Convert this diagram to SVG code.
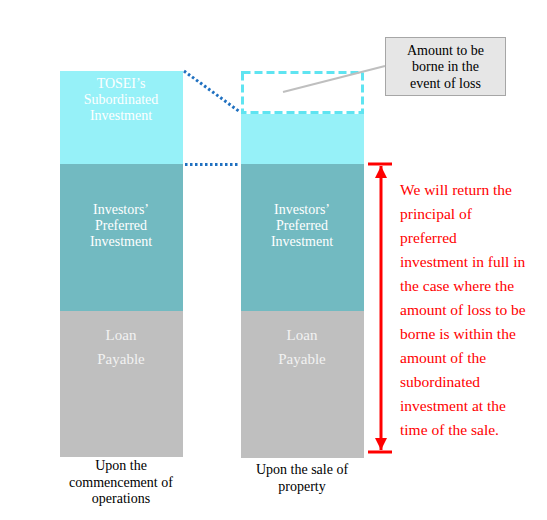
<svg xmlns="http://www.w3.org/2000/svg" width="547" height="520" viewBox="0 0 547 520" font-family="'Liberation Serif', 'Times New Roman', Times, 'DejaVu Serif', serif">
<defs>
<style>
text{font-family:'Liberation Serif','Times New Roman',Times,'DejaVu Serif',serif}
.t{text-anchor:middle}
.w{fill:#ffffff;font-size:14px}
.lp{fill:#f2f2f2;font-size:15px}
.k{fill:#000000;font-size:14px}
.r{fill:#ff0000;font-size:15.5px}
.dot{stroke:#1f70c0;stroke-width:3;stroke-dasharray:2.5 2.5;fill:none}
</style>
<marker id="ah" viewBox="0 0 10 10" refX="10" refY="5" markerWidth="4" markerHeight="4" orient="auto" markerUnits="strokeWidth">
<path d="M0,0 L10,5 L0,10 z" fill="#ff0000"/>
</marker>
</defs>
<rect width="547" height="520" fill="#ffffff"/>
<g id="col1">
<rect x="60" y="71" width="123" height="93" fill="#96f1f8"/>
<rect x="60" y="164" width="123" height="147" fill="#72bac1"/>
<rect x="60" y="311" width="123" height="146" fill="#bfbfbf"/>
<text class="t w"><tspan x="121" y="88">TOSEI’s</tspan><tspan x="121" y="104">Subordinated</tspan><tspan x="121" y="120">Investment</tspan></text>
<text class="t w"><tspan x="121" y="214">Investors’</tspan><tspan x="121" y="230">Preferred</tspan><tspan x="121" y="246">Investment</tspan></text>
<text class="t lp"><tspan x="121" y="340">Loan</tspan><tspan x="121" y="364">Payable</tspan></text>
<text class="t k"><tspan x="121" y="470">Upon the</tspan><tspan x="121" y="487">commencement of</tspan><tspan x="121" y="503">operations</tspan></text>
</g>
<g id="col2">
<rect x="241" y="114" width="123" height="50" fill="#96f1f8"/>
<rect x="241" y="164" width="123" height="147" fill="#72bac1"/>
<rect x="241" y="311" width="123" height="147" fill="#bfbfbf"/>
<rect x="242.5" y="72.5" width="120" height="40" fill="none" stroke="#5fe4f1" stroke-width="3" stroke-dasharray="8 4"/>
<text class="t w"><tspan x="302" y="214">Investors’</tspan><tspan x="302" y="230">Preferred</tspan><tspan x="302" y="246">Investment</tspan></text>
<text class="t lp"><tspan x="302" y="340">Loan</tspan><tspan x="302" y="364">Payable</tspan></text>
<text class="t k"><tspan x="302" y="474">Upon the sale of</tspan><tspan x="302" y="491">property</tspan></text>
</g>
<g id="callout">
<rect x="385.5" y="37.5" width="120" height="58" fill="#e6e6e6" stroke="#a6a6a6" stroke-width="1"/>
<text class="t k"><tspan x="445.5" y="55">Amount to be</tspan><tspan x="445.5" y="71">borne in the</tspan><tspan x="445.5" y="88">event of loss</tspan></text>
</g>
<g id="note">
<text class="r"><tspan x="400" y="195">We will return the</tspan><tspan x="400" y="219">principal of</tspan><tspan x="400" y="243">preferred</tspan><tspan x="400" y="267">investment in full in</tspan><tspan x="400" y="291">the case where the</tspan><tspan x="400" y="315">amount of loss to be</tspan><tspan x="400" y="339">borne is within the</tspan><tspan x="400" y="363">amount of the</tspan><tspan x="400" y="387">subordinated</tspan><tspan x="400" y="411">investment at the</tspan><tspan x="400" y="435">time of the sale.</tspan></text>
</g>
<g id="connectors">
<line x1="184" y1="71" x2="240" y2="112" class="dot"/>
<line x1="185" y1="164.5" x2="238" y2="164.5" class="dot"/>
<line x1="283" y1="92" x2="385" y2="66" stroke="#bfbfbf" stroke-width="2"/>
<line x1="368" y1="164" x2="392" y2="164" stroke="#ff0000" stroke-width="3"/>
<line x1="368" y1="452" x2="392" y2="452" stroke="#ff0000" stroke-width="3"/>
<line x1="381" y1="300" x2="381" y2="166" stroke="#ff0000" stroke-width="3" marker-end="url(#ah)"/>
<line x1="381" y1="300" x2="381" y2="450" stroke="#ff0000" stroke-width="3" marker-end="url(#ah)"/>
</g>
</svg>
